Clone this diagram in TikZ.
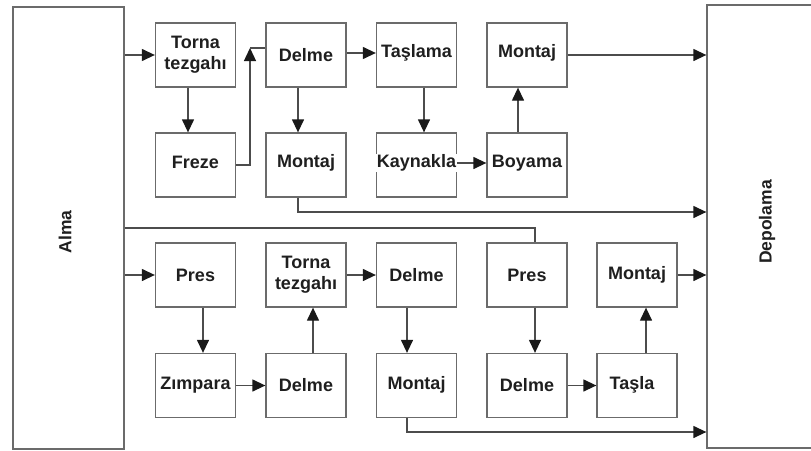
\documentclass[tikz,border=0pt]{standalone}
\usepackage{fontspec}
\setmainfont{Liberation Sans}
\usetikzlibrary{arrows.meta}
\definecolor{boxgray}{gray}{0.42}
\definecolor{linegray}{gray}{0.30}
\begin{document}
\begin{tikzpicture}[x=1pt,y=-1pt,
  box/.style={draw=boxgray, line width=1.3pt, minimum width=80pt, minimum height=64pt, inner sep=0pt},
  lbl/.style={fill=white, inner sep=0.6pt, font=\bfseries\fontsize{18}{21}\selectfont, align=center, text=black!88},
  side/.style={draw=boxgray, line width=1.3pt, inner sep=0pt},
  sidetxt/.style={font=\bfseries\fontsize{17.5}{20}\selectfont, rotate=90, text=black!88},
  flow/.style={draw=linegray, line width=1.3pt, -{Triangle[length=13pt,width=12pt,color=black!90]}},
  wire/.style={draw=linegray, line width=1.3pt}]
\useasboundingbox (0,0) rectangle (811,450);

% receiving and storage blocks
\node[side, minimum width=111pt, minimum height=442pt] (alma) at (68.5,228) {};
\node[sidetxt] (almat) at (65,232) {Alma};
\node[side, minimum width=140pt, minimum height=443pt] (dep) at (777,226.5) {};
\node[sidetxt] (dept) at (767,222) {Depolama};

% upper line: boxes
\node[box] (a1) at (195.5,55) {};  \node[lbl] (a1t) at (a1) {Torna\\tezgahı};
\node[box] (a2) at (306,55) {};    \node[lbl] (a2t) at (a2) {Delme};
\node[box] (a3) at (416.5,55) {};  \node[lbl] (a3t) at (416.5,53) {Taşlama};
\node[box] (a4) at (527,55) {};    \node[lbl] (a4t) at (527,53) {Montaj};
\node[box] (b1) at (195.5,165) {}; \node[lbl] (b1t) at (195.5,162) {Freze};
\node[box] (b2) at (306,165) {};   \node[lbl] (b2t) at (306,163) {Montaj};
\node[box] (b3) at (416.5,165) {}; \node[lbl] (b3t) at (416.5,163) {Kaynakla};
\node[box] (b4) at (527,165) {};   \node[lbl] (b4t) at (527,163) {Boyama};

% lower line: boxes
\node[box] (c1) at (195.5,275) {}; \node[lbl] (c1t) at (c1) {Pres};
\node[box] (c2) at (306,275) {};   \node[lbl] (c2t) at (c2) {Torna\\tezgahı};
\node[box] (c3) at (416.5,275) {}; \node[lbl] (c3t) at (c3) {Delme};
\node[box] (c4) at (527,275) {};   \node[lbl] (c4t) at (c4) {Pres};
\node[box] (c5) at (637,275) {};   \node[lbl] (c5t) at (c5) {Montaj};
\node[box] (d1) at (195.5,385.5) {}; \node[lbl] (d1t) at (195.5,385) {Zımpara};
\node[box] (d2) at (306,385.5) {};   \node[lbl] (d2t) at (306,385) {Delme};
\node[box] (d3) at (416.5,385.5) {}; \node[lbl] (d3t) at (416.5,385) {Montaj};
\node[box] (d4) at (527,385.5) {};   \node[lbl] (d4t) at (527,385) {Delme};
\node[box] (d5) at (637,385.5) {};   \node[lbl] (d5t) at (632,385) {Taşla};

% helper points
\coordinate (k1) at (250,48);
\coordinate (k2) at (535,228);

% upper line: flow
\draw[flow] (alma.east |- a1) -- (a1.west);
\draw[flow] ([xshift=-7.5pt]a1.south) -- ([xshift=-7.5pt]b1.north);
\draw[flow] (b1.east) -| (k1);
\draw[wire] (k1) -- (k1 -| a2.west);
\draw[flow] ([yshift=2pt]a2.east) -- ([yshift=2pt]a3.west);
\draw[flow] ([xshift=-8pt]a2.south) -- ([xshift=-8pt]b2.north);
\draw[flow] ([xshift=7.5pt]a3.south) -- ([xshift=7.5pt]b3.north);
\draw[flow] ([yshift=2pt]b3.east) -- ([yshift=2pt]b4.west);
\draw[flow] ([xshift=-9pt]b4.north) -- ([xshift=-9pt]a4.south);
\draw[flow] (a4.east) -- (a4.east -| dep.west);
\draw[flow] ([xshift=-8pt]b2.south) |- (dep.west |- 0,212);

% branch from receiving to the second press
\draw[wire] (alma.east |- k2) -- (k2) -- (k2 |- c4.north);

% lower line: flow
\draw[flow] (alma.east |- c1) -- (c1.west);
\draw[flow] ([xshift=7.5pt]c1.south) -- ([xshift=7.5pt]d1.north);
\draw[flow] (d1.east) -- (d2.west);
\draw[flow] ([xshift=7pt]d2.north) -- ([xshift=7pt]c2.south);
\draw[flow] (c2.east) -- (c3.west);
\draw[flow] ([xshift=-9.5pt]c3.south) -- ([xshift=-9.5pt]d3.north);
\draw[flow] ([xshift=-9.5pt]d3.south) |- (dep.west |- 0,432);
\draw[flow] ([xshift=8pt]c4.south) -- ([xshift=8pt]d4.north);
\draw[flow] (d4.east) -- (d5.west);
\draw[flow] ([xshift=9pt]d5.north) -- ([xshift=9pt]c5.south);
\draw[flow] (c5.east) -- (c5.east -| dep.west);
\end{tikzpicture}
\end{document}
